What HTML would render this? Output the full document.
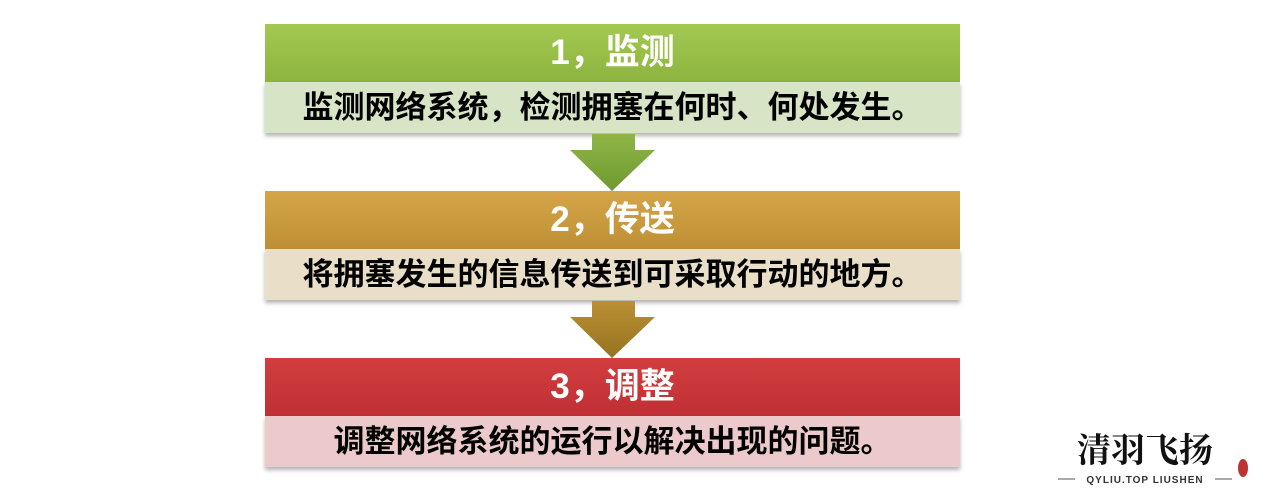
<!DOCTYPE html>
<html><head><meta charset="utf-8"><style>
body{margin:0;width:1277px;height:493px;background:#fff;position:relative;overflow:hidden;font-family:"Liberation Sans","Noto Sans CJK SC",sans-serif;font-weight:bold}
.h,.b{position:absolute;left:265px;width:695px;text-align:center}
.h{height:58px;line-height:58px;color:#fff;font-size:35px}
.b{height:51px;line-height:51px;color:#000;font-size:31px;box-shadow:0 3px 4px rgba(0,0,0,.3)}
svg{position:absolute;left:0;top:0}
</style></head><body>
<div class="h" style="top:24px;background:linear-gradient(#a3c952,#8db43e)">1，监测</div>
<div class="b" style="top:82px;background:#d8e4c6">监测网络系统，检测拥塞在何时、何处发生。</div>
<div class="h" style="top:191px;background:linear-gradient(#d4a548,#bf8f35)">2，传送</div>
<div class="b" style="top:249px;background:#e9dfc8">将拥塞发生的信息传送到可采取行动的地方。</div>
<div class="h" style="top:358px;background:linear-gradient(#d23e40,#bf2f33)">3，调整</div>
<div class="b" style="top:416px;background:#ecc9ca">调整网络系统的运行以解决出现的问题。</div>
<svg width="1277" height="493">
<defs>
<linearGradient id="g1" x1="0" y1="0" x2="0" y2="1"><stop offset="0" stop-color="#8fb546"/><stop offset="1" stop-color="#6f9a30"/></linearGradient>
<linearGradient id="g2" x1="0" y1="0" x2="0" y2="1"><stop offset="0" stop-color="#bb9035"/><stop offset="1" stop-color="#96731f"/></linearGradient>
</defs>
<polygon points="592,134 635,134 635,150 655,150 612,191 570,150 592,150" fill="url(#g1)"/>
<polygon points="592,301 635,301 635,317 655,317 612,358 570,317 592,317" fill="url(#g2)"/>
<text x="1145" y="462" font-family="Noto Serif CJK SC,serif" font-size="34" font-weight="bold" text-anchor="middle" fill="#111">清羽飞扬</text>
<line x1="1058" y1="479" x2="1075" y2="479" stroke="#555"/>
<line x1="1215" y1="479" x2="1232" y2="479" stroke="#555"/>
<text x="1145" y="483" font-size="10" text-anchor="middle" fill="#333" letter-spacing="1">QYLIU.TOP  LIUSHEN</text>
<ellipse cx="1243" cy="468" rx="5" ry="9" fill="#b33"/>
</svg>
</body></html>
